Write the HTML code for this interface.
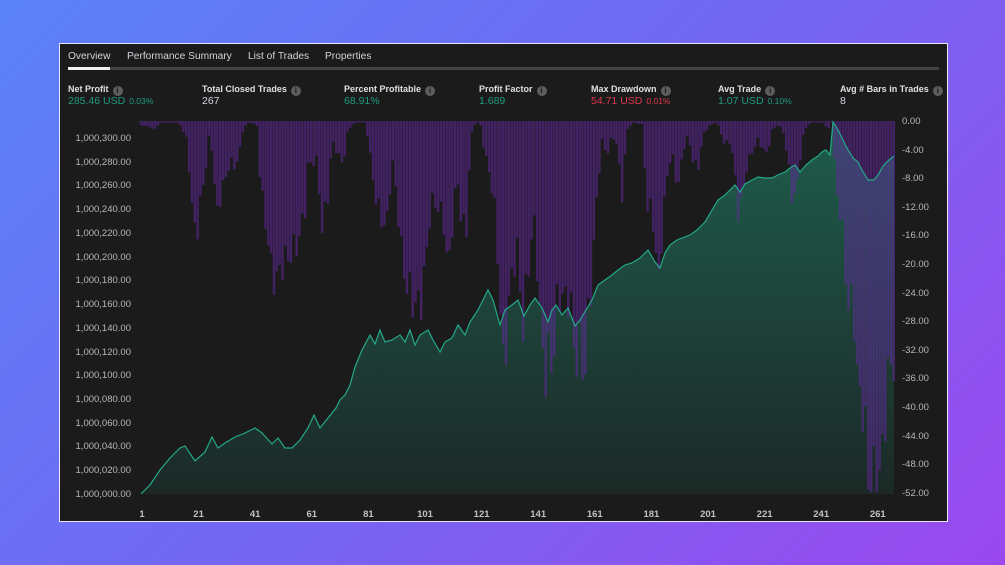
<!DOCTYPE html>
<html><head><meta charset="utf-8"><style>
*{margin:0;padding:0;box-sizing:border-box}
body{width:1005px;height:565px;overflow:hidden;background:linear-gradient(135deg,#5a82f8 0%,#7367f2 50%,#9a48ee 100%);font-family:"Liberation Sans",sans-serif;position:relative}
#panel{position:absolute;left:59px;top:43px;width:889px;height:479px;background:#1b1b1c;border:1px solid #e9e6f5}
.t{position:absolute;white-space:nowrap}
.tab{top:7px;font-size:10.2px;color:#d1d4dc}
.lab{top:40px;font-size:9px;font-weight:bold;color:#e0e0e0}
.val{top:51px;font-size:10.5px}
.i{display:inline-block;width:10px;height:10px;border-radius:50%;background:#5d5d60;color:#1b1b1c;font-size:8px;text-align:center;line-height:10px;margin-left:4px;vertical-align:-1px;font-weight:bold}
.g{color:#1e9c7e}.r{color:#e0384d}.w{color:#d1d4dc}
.sm{font-size:8.5px;margin-left:4px}
.ly{right:816px;font-size:9.5px;color:#b8b8be;text-align:right}
.ry{left:842px;font-size:9.5px;color:#b8b8be}
.xl{top:465px;font-size:9.5px;color:#c0c0c6;font-weight:bold;transform:translateX(-50%)}
</style></head><body>
<div id="panel">
<div class="t tab" style="left:8px">Overview</div>
<div class="t tab" style="left:67px">Performance Summary</div>
<div class="t tab" style="left:188px">List of Trades</div>
<div class="t tab" style="left:265px">Properties</div>
<div style="position:absolute;left:8px;top:23px;width:871px;height:3px;background:#434347"></div>
<div style="position:absolute;left:8px;top:23px;width:42px;height:3px;background:#f0f0f0"></div>

<div class="t lab" style="left:8px">Net Profit<span class="i">i</span></div>
<div class="t val g" style="left:8px">285.46 USD<span class="sm">0.03%</span></div>
<div class="t lab" style="left:142px">Total Closed Trades<span class="i">i</span></div>
<div class="t val w" style="left:142px">267</div>
<div class="t lab" style="left:284px">Percent Profitable<span class="i">i</span></div>
<div class="t val g" style="left:284px">68.91%</div>
<div class="t lab" style="left:419px">Profit Factor<span class="i">i</span></div>
<div class="t val g" style="left:419px">1.689</div>
<div class="t lab" style="left:531px">Max Drawdown<span class="i">i</span></div>
<div class="t val r" style="left:531px">54.71 USD<span class="sm">0.01%</span></div>
<div class="t lab" style="left:658px">Avg Trade<span class="i">i</span></div>
<div class="t val g" style="left:658px">1.07 USD<span class="sm">0.10%</span></div>
<div class="t lab" style="left:780px">Avg # Bars in Trades<span class="i">i</span></div>
<div class="t val w" style="left:780px">8</div>
<div id="axes"></div>
</div>
<svg id="ch" width="1005" height="565" style="position:absolute;left:0;top:0"></svg>
<script>
var P=[[141,494],[150,485],[160,470],[170,458],[180,448],[185,446],[195,461],[205,452],[212,437],[218,448],[225,443],[235,437],[245,433],[255,428],[262,433],[272,444],[278,438],[285,448],[292,448],[300,440],[308,428],[314,415],[320,428],[328,418],[336,408],[340,400],[345,395],[350,385],[355,367],[362,350],[370,335],[375,344],[380,330],[385,342],[392,340],[400,335],[405,342],[410,330],[415,345],[420,335],[428,330],[433,340],[440,352],[445,342],[452,338],[458,325],[465,335],[470,322],[478,310],[483,300],[488,290],[493,300],[500,325],[505,310],[512,305],[518,300],[524,316],[530,305],[535,298],[542,308],[548,322],[552,310],[556,305],[562,315],[568,308],[575,326],[580,320],[586,310],[592,300],[598,285],[605,280],[612,275],[618,270],[625,265],[632,263],[640,258],[648,250],[655,262],[660,268],[665,253],[670,245],[677,240],[682,238],[690,235],[697,230],[705,222],[712,210],[718,200],[725,195],[732,188],[735,185],[740,192],[745,184],[752,180],[758,177],[765,178],[772,178],[778,175],[785,172],[790,168],[795,165],[800,172],[806,165],[812,160],[818,156],[822,152],[826,150],[830,155],[833,122],[838,130],[843,140],[848,150],[853,158],[858,162],[862,170],[868,180],[874,180],[878,175],[883,166],[889,160],[894,156]];
var D=[[140,125],[150,127],[155,130],[160,122],[170,121],[180,124],[187,140],[190,178],[193,225],[198,228],[202,190],[207,160],[210,125],[213,165],[217,215],[222,188],[227,175],[230,160],[235,168],[240,150],[243,130],[248,122],[257,125],[258,153],[262,195],[268,240],[272,275],[277,280],[283,262],[288,258],[298,243],[305,210],[308,165],[317,160],[322,228],[328,195],[332,140],[343,165],[348,130],[355,122],[365,122],[368,138],[375,195],[383,225],[388,220],[392,155],[398,210],[403,270],[412,300],[420,308],[425,270],[430,215],[433,200],[443,215],[447,260],[450,260],[452,228],[457,175],[462,225],[467,230],[470,150],[473,125],[480,122],[485,155],[490,175],[495,210],[498,260],[503,370],[507,330],[512,270],[518,250],[523,330],[527,280],[530,250],[535,220],[540,320],[545,375],[550,355],[553,365],[558,290],[563,300],[570,295],[575,360],[580,350],[585,375],[588,320],[592,275],[597,195],[602,140],[607,155],[612,135],[617,145],[622,195],[627,130],[633,122],[643,125],[647,215],[652,200],[657,280],[660,265],[663,225],[668,165],[673,158],[678,190],[683,150],[688,135],[693,160],[698,170],[703,135],[710,125],[717,122],[725,145],[729,140],[733,155],[738,210],[742,200],[747,165],[753,150],[758,140],[767,155],[772,130],[778,125],[783,130],[788,160],[793,205],[798,180],[802,140],[807,125],[813,122],[823,122],[828,130],[832,121],[835,175],[840,215],[845,245],[847,320],[853,290],[857,385],[862,395],[867,465],[872,485],[878,492],[882,465],[885,410],[890,365],[894,360]];
function interp(A,x){if(x<=A[0][0])return A[0][1];for(var i=1;i<A.length;i++){if(x<=A[i][0]){var a=A[i-1],b=A[i];return a[1]+(b[1]-a[1])*(x-a[0])/(b[0]-a[0]);}}return A[A.length-1][1];}
var s='<defs><linearGradient id="ga" x1="0" y1="0" x2="0" y2="1"><stop offset="0" stop-color="#1f5d4c"/><stop offset="1" stop-color="#1c2926"/></linearGradient></defs>';
var d='M141,494 ';P.forEach(function(p){d+='L'+p[0]+','+p[1]+' ';});
s+='<path d="'+d+'L894,494 Z" fill="url(#ga)"/>';
var bars='';
for(var k=0;k<267;k++){var x=141+k*2.83;var yb=interp(D,x);var h=yb-121;h*=1+0.12*Math.sin(k*2.3);if(h>371)h=371;if(h<1.5)h=1.5;bars+='<rect x="'+(x-1.2).toFixed(2)+'" y="121" width="2.4" height="'+h.toFixed(1)+'"/>';}
s+='<g fill="rgba(100,40,160,0.55)">'+bars+'</g>';
s+='<path d="'+d+'" fill="none" stroke="#24a889" stroke-width="1.2"/>';
document.getElementById('ch').innerHTML=s;
var ax='';
for(var i=0;i<=15;i++){var v=(300-i*20);var y=138+i*23.73-43-6;ax+='<div class="t ly" style="top:'+y+'px">1,000,'+(v<100?(v<10?'00'+v:'0'+v):v)+'.00</div>';}
for(var i=0;i<=13;i++){var y=121+i*28.6-43-6;ax+='<div class="t ry" style="top:'+y+'px">'+(i==0?'0.00':'-'+(i*4)+'.00')+'</div>';}
var xs=[1,21,41,61,81,101,121,141,161,181,201,221,241,261];
xs.forEach(function(n,j){ax+='<div class="t xl" style="left:'+(82+j*56.6)+'px">'+n+'</div>';});
document.getElementById('axes').innerHTML=ax;
</script>
</body></html>
